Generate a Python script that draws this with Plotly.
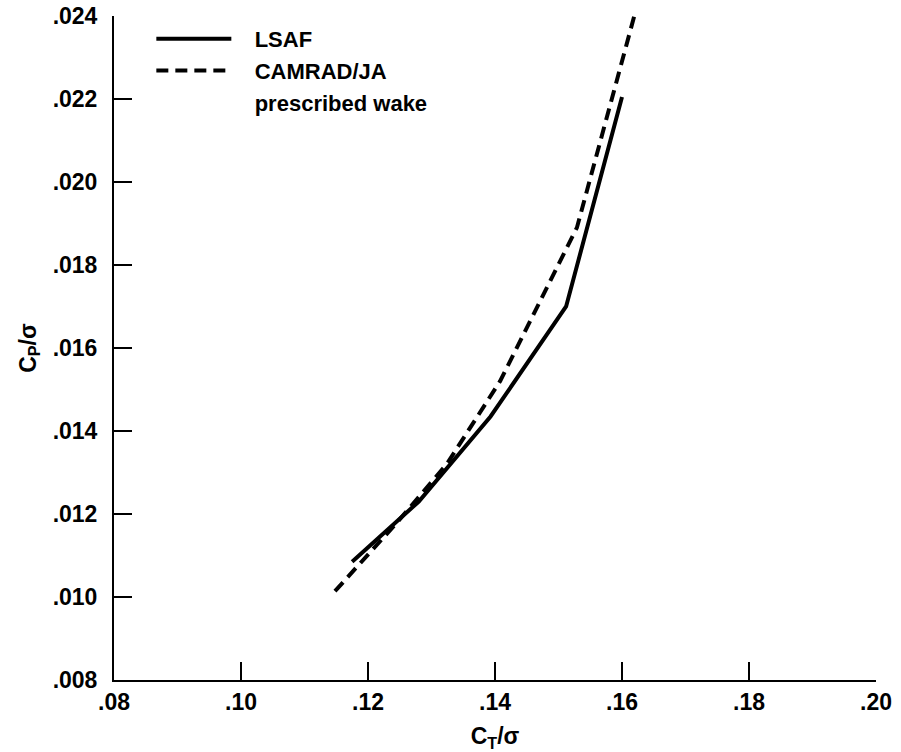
import plotly.graph_objects as go

# Data
lsaf_ct = [0.1175, 0.1280, 0.1393, 0.1512, 0.1600]
lsaf_cp = [0.01085, 0.01230, 0.01435, 0.01700, 0.02205]

camrad_ct = [0.1148, 0.1246, 0.1324, 0.1408, 0.1529, 0.1619]
camrad_cp = [0.01014, 0.01180, 0.01320, 0.01520, 0.01890, 0.02398]

x_tickvals = [0.08, 0.10, 0.12, 0.14, 0.16, 0.18, 0.20]
x_ticktext = [".08", ".10", ".12", ".14", ".16", ".18", ".20"]
y_tickvals = [0.008, 0.010, 0.012, 0.014, 0.016, 0.018, 0.020, 0.022, 0.024]
y_ticktext = [".008", ".010", ".012", ".014", ".016", ".018", ".020", ".022", ".024"]

FONT = "Liberation Sans"
FS = 23
PAD = "\u00a0\u00a0\u00a0"

fig = go.Figure()
fig.add_trace(go.Scatter(x=lsaf_ct, y=lsaf_cp, mode="lines", name=PAD + "LSAF",
                         line=dict(color="black", width=4)))
fig.add_trace(go.Scatter(x=camrad_ct, y=camrad_cp, mode="lines", name=PAD + "CAMRAD/JA",
                         line=dict(color="black", width=4, dash="12px,7px")))
fig.add_trace(go.Scatter(x=[None], y=[None], mode="lines", name=PAD + "prescribed wake",
                         line=dict(color="rgba(0,0,0,0)", width=0), hoverinfo="skip"))

axis_common = dict(
    showline=True, linecolor="black", linewidth=2,
    ticks="inside", ticklen=18, tickwidth=2, tickcolor="black",
    showgrid=False, zeroline=False, mirror=False,
    tickfont=dict(family=FONT, size=FS, color="black", weight="bold"),
    automargin=False,
)

fig.update_xaxes(range=[0.08, 0.20], tickvals=x_tickvals, ticktext=x_ticktext,
                 ticklabelstandoff=0,
                 title=dict(text="C<sub>T</sub>/σ", standoff=14,
                            font=dict(family=FONT, size=FS, color="black", weight="bold")),
                 **axis_common)
fig.update_yaxes(range=[0.008, 0.024], tickvals=y_tickvals, ticktext=y_ticktext,
                 ticklabelstandoff=10,
                 title=dict(text="C<sub>P</sub>/σ", standoff=10,
                            font=dict(family=FONT, size=FS, color="black", weight="bold")),
                 **axis_common)

fig.update_layout(
    width=901, height=752,
    margin=dict(l=114, r=25, t=16, b=72),
    paper_bgcolor="white", plot_bgcolor="white",
    showlegend=True,
    legend=dict(x=0.049, y=0.997, xanchor="left", yanchor="top",
                itemwidth=75, bgcolor="rgba(0,0,0,0)",
                font=dict(family=FONT, size=22, color="black", weight="bold"),
                tracegroupgap=0),
)

fig.write_html("out.html")
